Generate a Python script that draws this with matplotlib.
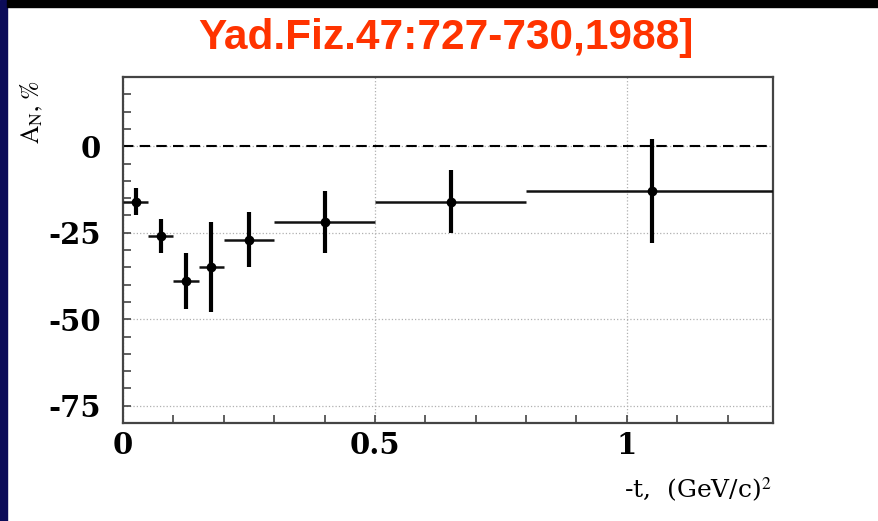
import numpy as np
import matplotlib.pyplot as plt
from matplotlib.patches import Rectangle
from matplotlib.ticker import MultipleLocator

plt.rcParams['mathtext.fontset'] = 'stix'

# data: -t bins and A_N (%)
t_vals = [0.025, 0.075, 0.125, 0.175, 0.25, 0.4, 0.65, 1.05]
t_half = [0.025, 0.025, 0.025, 0.025, 0.05, 0.1, 0.15, 0.25]
an_vals = [-16, -26, -39, -35, -27, -22, -16, -13]
an_errs = [4, 5, 8, 13, 8, 9, 9, 15]

title = "Yad.Fiz.47:727-730,1988]"

W, H = 879, 521
fig = plt.figure(figsize=(W / 100, H / 100), dpi=100)
fig.patch.set_facecolor('white')

# slide decorations: navy strip on the left, black bar on top
fig.patches.append(Rectangle((0, 0), 7 / W, 1, transform=fig.transFigure,
                             color='#0b0b58', zorder=0))
fig.patches.append(Rectangle((7 / W, 1 - 7 / H), 1, 7 / H, transform=fig.transFigure,
                             color='black', zorder=0))

ax = fig.add_axes([123 / W, 1 - 423 / H, 650 / W, 346 / H])

ax.set_xlim(0, 1.29)
ax.set_ylim(-80, 20)

ax.axhline(0, color='black', lw=1.5, ls=(0, (5, 3)), zorder=2)

# horizontal bars (bin widths) thin, vertical (errors) thicker
ax.errorbar(t_vals, an_vals, xerr=t_half, fmt='none', ecolor='#111111',
            elinewidth=1.8, capsize=0, zorder=3)
ax.errorbar(t_vals, an_vals, yerr=an_errs, fmt='o', color='black', ms=6,
            ecolor='black', elinewidth=3, capsize=0, zorder=4)

ax.set_xticks([0, 0.5, 1])
ax.set_xticklabels(['0', '0.5', '1'])
ax.set_yticks([-75, -50, -25, 0])
ax.set_yticklabels(['-75', '-50', '-25', '0'])
ax.xaxis.set_minor_locator(MultipleLocator(0.1))
ax.yaxis.set_minor_locator(MultipleLocator(5))

ax.grid(True, which='major', color='#b0b0b0', ls=':', lw=0.9)
ax.tick_params(which='both', direction='in', length=6, width=1.2, color='#444444',
               top=False, right=False)
ax.tick_params(axis='y', pad=16)
ax.tick_params(axis='x', pad=6)
for lab in ax.get_xticklabels() + ax.get_yticklabels():
    lab.set_fontfamily('DejaVu Serif')
    lab.set_fontweight('bold')
    lab.set_fontsize(21)

for sp in ax.spines.values():
    sp.set_color('#444444')
    sp.set_linewidth(1.6)

fig.text(446 / W, 1 - 38 / H, title, color='#ff3300', fontsize=30.5,
         fontweight='bold', family='Liberation Sans', ha='center', va='center')

fig.text(32 / W, 1 - 80 / H, r'A$_{\mathrm{N}}$, %', rotation=90,
         family='STIXGeneral', fontsize=18, ha='center', va='top')
fig.text(772 / W, 1 - 490 / H, r'-t,  (GeV/c)$^{2}$', family='DejaVu Serif',
         fontsize=18, ha='right', va='center')

fig.savefig('out.png', dpi=100)
